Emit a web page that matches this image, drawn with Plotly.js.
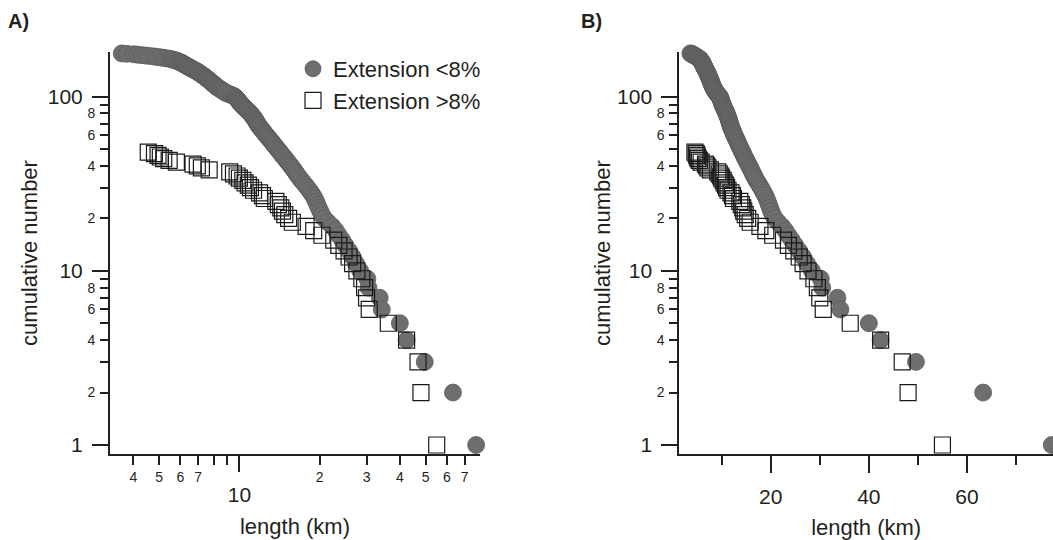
<!DOCTYPE html>
<html>
<head>
<meta charset="utf-8">
<script src="https://cdn.plot.ly/plotly-3.0.1.min.js"></script>
<style>html,body{margin:0;padding:0;background:#fff;}#chart{width:1053px;height:540px;}</style>
</head>
<body>
<div id="chart"></div>
<script>
// Extension <8% : fault lengths (km), ascending, and their cumulative number
const circleLength = [
  3.62, 3.78, 4.02, 4.15, 4.3, 4.45, 4.6, 4.78, 4.9, 5.05,
  5.18, 5.3, 5.45, 5.55, 5.62, 5.7, 5.78, 5.85, 5.9, 5.96,
  6.02, 6.08, 6.12, 6.17, 6.2, 6.25, 6.3, 6.34, 6.4, 6.45,
  6.5, 6.56, 6.6, 6.66, 6.72, 6.78, 6.83, 6.9, 6.95, 7.0,
  7.05, 7.1, 7.16, 7.2, 7.26, 7.3, 7.36, 7.4, 7.46, 7.5,
  7.55, 7.6, 7.65, 7.7, 7.74, 7.8, 7.85, 7.9, 7.95, 8.0,
  8.05, 8.1, 8.15, 8.2, 8.28, 8.35, 8.42, 8.5, 8.58, 8.66,
  8.75, 8.82, 8.9, 9.05, 9.2, 9.35, 9.48, 9.6, 9.66, 9.72,
  9.78, 9.84, 9.9, 9.95, 10.0, 10.06, 10.12, 10.18, 10.25, 10.32,
  10.4, 10.48, 10.56, 10.65, 10.74, 10.83, 10.92, 11.0, 11.07, 11.14,
  11.22, 11.3, 11.37, 11.44, 11.5, 11.56, 11.62, 11.68, 11.75, 11.82,
  11.9, 12.0, 12.1, 12.2, 12.3, 12.4, 12.5, 12.6, 12.72, 12.85,
  12.98, 13.1, 13.22, 13.35, 13.48, 13.6, 13.75, 13.9, 14.05, 14.2,
  14.35, 14.5, 14.68, 14.86, 15.04, 15.22, 15.4, 15.6, 15.8, 16.0,
  16.2, 16.4, 16.6, 16.85, 17.1, 17.4, 17.7, 18.0, 18.3, 18.6,
  18.9, 19.15, 19.4, 19.6, 19.85, 20.1, 20.4, 20.8, 21.5, 22.3,
  23.0, 23.6, 24.3, 25.0, 25.8, 26.6, 27.4, 28.4, 30.2, 30.5,
  33.6, 34.2, 40.0, 42.4, 49.6, 63.3, 77.3
];
const circleCount = [
  177,176,175,174,173,172,171,170,169,168,
  167,166,165,164,163,162,161,160,159,158,
  157,156,155,154,153,152,151,150,149,148,
  147,146,145,144,143,142,141,140,139,138,
  137,136,135,134,133,132,131,130,129,128,
  127,126,125,124,123,122,121,120,119,118,
  117,116,115,114,113,112,111,110,109,108,
  107,106,105,104,103,102,101,100,99,98,
  97,96,95,94,93,92,91,90,89,88,
  87,86,85,84,83,82,81,80,79,78,
  77,76,75,74,73,72,71,70,69,68,
  67,66,65,64,63,62,61,60,59,58,
  57,56,55,54,53,52,51,50,49,48,
  47,46,45,44,43,42,41,40,39,38,
  37,36,35,34,33,32,31,30,29,28,
  27,26,25,24,23,22,21,20,19,18,
  17,16,15,14,13,12,11,10,9,8,
  7,6,5,4,3,2,1
];
// Extension >8%
const squareLength = [
  4.55, 4.8, 4.95, 5.05, 5.2, 5.45, 5.8, 6.7, 6.95, 7.2,
  7.7, 9.2, 9.5, 9.8, 10.0, 10.3, 10.5, 10.8, 11.0, 11.3,
  11.9, 12.2, 12.4, 13.7, 14.0, 14.3, 14.5, 14.8, 15.3, 15.8,
  17.8, 19.0, 20.4, 22.6, 23.6, 24.7, 25.8, 26.6, 27.6, 28.8,
  29.5, 30.0, 30.7, 36.2, 42.4, 46.8, 48.0, 55.0
];
const squareCount = [
  48,47,46,45,44,43,42,41,40,39,
  38,37,36,35,34,33,32,31,30,29,
  28,27,26,25,24,23,22,21,20,19,
  18,17,16,15,14,13,12,11,10,9,
  8,7,6,5,4,3,2,1
];
const seriesNames = ['Extension <8%', 'Extension >8%'];
const panelLabels = ['A)', 'B)'];
const xTitle = 'length (km)';
const yTitle = 'cumulative number';

// tick definitions
const yMajorVals = [1, 10, 100];
const yMajorText = ['1', '10', '100'];
const yMinorVals = [2,3,4,5,6,7,8,9,20,30,40,50,60,70,80,90];
const yMinorText = ['2','','4','','6','','8','','2','','4','','6','','8',''];
const xAMinorVals = [4,5,6,7,8,9,20,30,40,50,60,70,80];
const xAMinorText = ['4','5','6','7','','','2','3','4','5','6','7',''];
const xAMajorVals = [10];
const xAMajorText = ['10'];
const xBMajorVals = [20, 40, 60];
const xBMajorText = ['20', '40', '60'];
const xBMinorVals = [10, 30, 50, 70];

const F = 'Liberation Sans, Arial, Helvetica, sans-serif';
const C = '#231f20';
const W = 1053;

const circleMarker = {symbol: 'circle', size: 17, color: '#6e6e71', line: {color: '#5d5d60', width: 0.8}};
const squareMarker = {symbol: 'square-open', size: 16, color: '#1a1a1a', line: {color: '#1a1a1a', width: 1.2}};

const traces = [
  {x: circleLength, y: circleCount, xaxis: 'x', yaxis: 'y', type: 'scatter', mode: 'markers', name: seriesNames[0], marker: circleMarker, cliponaxis: false, showlegend: true},
  {x: squareLength, y: squareCount, xaxis: 'x', yaxis: 'y', type: 'scatter', mode: 'markers', name: seriesNames[1], marker: squareMarker, cliponaxis: false, showlegend: true},
  {x: circleLength, y: circleCount, xaxis: 'x2', yaxis: 'y2', type: 'scatter', mode: 'markers', name: seriesNames[0], marker: circleMarker, cliponaxis: false, showlegend: false},
  {x: squareLength, y: squareCount, xaxis: 'x2', yaxis: 'y2', type: 'scatter', mode: 'markers', name: seriesNames[1], marker: squareMarker, cliponaxis: false, showlegend: false},
  // empty helper traces so that the overlay axes (large major tick labels) are drawn
  {x: [], y: [], xaxis: 'x3', yaxis: 'y', type: 'scatter', mode: 'markers', showlegend: false, hoverinfo: 'skip'},
  {x: [], y: [], xaxis: 'x', yaxis: 'y3', type: 'scatter', mode: 'markers', showlegend: false, hoverinfo: 'skip'},
  {x: [], y: [], xaxis: 'x2', yaxis: 'y4', type: 'scatter', mode: 'markers', showlegend: false, hoverinfo: 'skip'}
];

const yRange = [-0.0517, 2.256];
const xARange = [0.5144, 1.9028];
const xBRange = [1.36, 77.54];
const common = {showgrid: false, zeroline: false, ticks: 'outside', tickwidth: 2, tickcolor: C, tickmode: 'array', automargin: false};

const layout = {
  width: W, height: 540,
  margin: {l: 0, r: 0, t: 52, b: 86, pad: 0},
  paper_bgcolor: '#fff', plot_bgcolor: 'rgba(0,0,0,0)',
  font: {family: F, color: C},
  showlegend: true,
  xaxis: Object.assign({}, common, {
    domain: [110 / W, 480 / W], type: 'log', range: xARange, anchor: 'y',
    tickvals: xAMinorVals, ticktext: xAMinorText, ticklen: 9,
    tickfont: {size: 14, color: C}, ticklabelstandoff: 0,
    showline: true, linewidth: 2, linecolor: C
  }),
  xaxis3: Object.assign({}, common, {
    overlaying: 'x', anchor: 'y', type: 'log', range: xARange,
    tickvals: xAMajorVals, ticktext: xAMajorText, ticklen: 17,
    tickfont: {size: 21, color: C}, ticklabelstandoff: 5, showline: false,
    title: {text: xTitle, font: {size: 22, color: C}, standoff: 13}
  }),
  yaxis: Object.assign({}, common, {
    domain: [0, 1], type: 'log', range: yRange, anchor: 'x',
    tickvals: yMinorVals, ticktext: yMinorText, ticklen: 8,
    tickfont: {size: 14, color: C}, ticklabelstandoff: 2,
    showline: true, linewidth: 2, linecolor: C
  }),
  yaxis3: Object.assign({}, common, {
    overlaying: 'y', anchor: 'x', type: 'log', range: yRange,
    tickvals: yMajorVals, ticktext: yMajorText, ticklen: 17,
    tickfont: {size: 21, color: C}, ticklabelstandoff: 5, showline: false,
    title: {text: yTitle, font: {size: 22, color: C}, standoff: 4}
  }),
  xaxis2: Object.assign({}, common, {
    domain: [679.3 / W, 1], type: 'linear', range: xBRange, anchor: 'y2',
    tickvals: xBMajorVals, ticktext: xBMajorText, ticklen: 17,
    tickfont: {size: 21, color: C}, ticklabelstandoff: 6,
    showline: true, linewidth: 2, linecolor: C,
    minor: {tickmode: 'array', tickvals: xBMinorVals, ticks: 'outside', ticklen: 9, tickwidth: 2, tickcolor: C, showgrid: false},
    title: {text: xTitle, font: {size: 22, color: C}, standoff: 13}
  }),
  yaxis2: Object.assign({}, common, {
    domain: [0, 1], type: 'log', range: yRange, anchor: 'x2',
    tickvals: yMinorVals, ticktext: yMinorText, ticklen: 8,
    tickfont: {size: 14, color: C}, ticklabelstandoff: 2,
    showline: true, linewidth: 2, linecolor: C
  }),
  yaxis4: Object.assign({}, common, {
    overlaying: 'y2', anchor: 'x2', type: 'log', range: yRange,
    tickvals: yMajorVals, ticktext: yMajorText, ticklen: 17,
    tickfont: {size: 21, color: C}, ticklabelstandoff: 5, showline: false,
    title: {text: yTitle, font: {size: 22, color: C}, standoff: 0}
  }),
  legend: {
    x: 293 / W, y: 1.01, xanchor: 'left', yanchor: 'top',
    font: {size: 22, color: C, family: F}, bgcolor: 'rgba(0,0,0,0)',
    borderwidth: 0, tracegroupgap: 0, itemsizing: 'trace'
  },
  annotations: [
    {text: '<b>' + panelLabels[0] + '</b>', xref: 'paper', yref: 'paper', x: 6 / W, y: 1 + (52 - 21) / 402, xanchor: 'left', yanchor: 'middle', showarrow: false, font: {size: 20, family: F, color: C}},
    {text: '<b>' + panelLabels[1] + '</b>', xref: 'paper', yref: 'paper', x: 579 / W, y: 1 + (52 - 21) / 402, xanchor: 'left', yanchor: 'middle', showarrow: false, font: {size: 20, family: F, color: C}}
  ]
};

Plotly.newPlot('chart', traces, layout, {displayModeBar: false, staticPlot: true});
</script>
</body>
</html>
